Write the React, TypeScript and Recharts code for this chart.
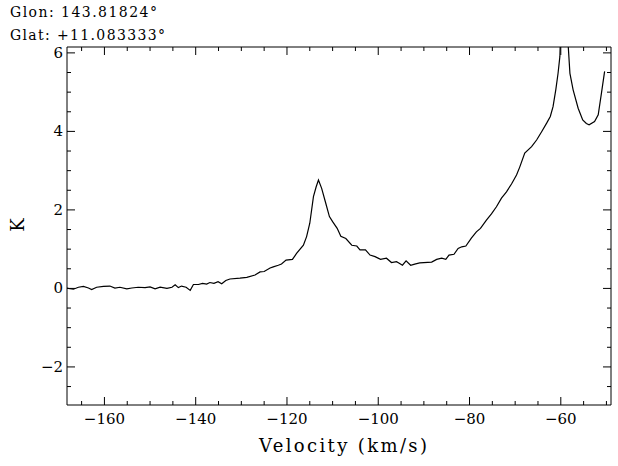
import React from 'react';
import { LineChart, Line, XAxis, YAxis } from 'recharts';

// Velocity (km/s) sample positions
const velocity = [
  -168.2, -167.9, -166.8, -165.7, -164.6, -163.5, -162.8, -161.7, -160.2, -158.8,
  -157.7, -156.6, -155.1, -154.0, -152.6, -151.1, -150.0, -148.9, -147.8, -146.3,
  -145.2, -144.5, -143.8, -143.1, -142.1, -141.2, -140.5, -139.4, -138.5, -137.6,
  -136.9, -136.0, -135.1, -134.3, -133.4, -132.5, -130.3, -128.8, -127.0, -125.9,
  -125.0, -123.7, -123.0, -121.9, -121.2, -120.2, -118.8, -117.9, -116.4, -115.7,
  -115.0, -114.2, -113.6, -113.1, -112.4, -111.5, -110.7, -110.0, -109.0, -108.2,
  -107.1, -105.8, -104.7, -104.0, -102.8, -101.8, -100.7, -99.5, -98.2, -97.1,
  -96.0, -95.4, -94.7, -93.9, -92.9, -92.0, -90.9, -88.3, -87.2, -86.1,
  -85.2, -84.5, -83.4, -82.5, -81.7, -80.8, -79.6, -78.5, -77.6, -76.3,
  -75.2, -74.1, -73.0, -71.9, -70.8, -69.7, -69.0, -67.9, -66.4, -65.3,
  -64.2, -63.1, -62.3, -61.7, -61.1, -60.6, -60.2, -59.4, -58.6, -58.0,
  -57.3, -56.2, -55.2, -54.4, -53.8, -52.6, -51.8, -51.1, -50.4,
];

// Brightness temperature (K)
const kelvin = [
  0.01, 0.0, -0.02, 0.03, 0.05, 0.01, -0.03, 0.03, 0.05, 0.06,
  0.01, 0.03, -0.01, 0.01, 0.03, 0.02, 0.04, -0.01, 0.03, 0.0,
  0.03, 0.09, 0.02, 0.06, 0.03, -0.05, 0.10, 0.10, 0.13, 0.11,
  0.15, 0.13, 0.17, 0.12, 0.20, 0.24, 0.26, 0.28, 0.34, 0.42,
  0.43, 0.52, 0.55, 0.59, 0.62, 0.72, 0.74, 0.89, 1.10, 1.32,
  1.66, 2.34, 2.59, 2.76, 2.55, 2.17, 1.83, 1.70, 1.53, 1.33,
  1.27, 1.10, 1.08, 0.98, 0.98, 0.85, 0.81, 0.74, 0.77, 0.66,
  0.68, 0.64, 0.59, 0.70, 0.59, 0.62, 0.65, 0.67, 0.74, 0.77,
  0.74, 0.85, 0.87, 1.02, 1.06, 1.08, 1.28, 1.44, 1.53, 1.74,
  1.90, 2.08, 2.30, 2.46, 2.66, 2.89, 3.09, 3.45, 3.61, 3.78,
  3.99, 4.21, 4.38, 4.63, 5.06, 5.48, 5.91, 9.0, 6.6, 5.48,
  5.06, 4.59, 4.29, 4.20, 4.17, 4.25, 4.42, 4.97, 5.53,
];

const xDomain = [-168.2, -49.0];
const yDomain = [-2.97, 6.15];

const xTicks = [
  -165, -160, -155, -150, -145, -140, -135, -130, -125, -120, -115, -110,
  -105, -100, -95, -90, -85, -80, -75, -70, -65, -60, -55, -50,
];
const xMajorTicks = [-160, -140, -120, -100, -80, -60];
const yTicks = [-2.5, -2, -1.5, -1, -0.5, 0, 0.5, 1, 1.5, 2, 2.5, 3, 3.5, 4, 4.5, 5, 5.5, 6];
const yMajorTicks = [-2, 0, 2, 4, 6];

const titleLines = ['Glon: 143.81824\u00b0', 'Glat: +11.083333\u00b0'];
const xLabel = 'Velocity (km/s)';
const yLabel = 'K';

const FONT = "'DejaVu Serif', serif";
const MAJOR = 8;
const MINOR = 4;

const data = velocity.map((v, i) => ({ v, k: kelvin[i] }));

const fmt = (n: number) => (n < 0 ? '\u2212' + Math.abs(n) : String(n));

const BottomTick = (props: any) => {
  const { x, y, payload } = props;
  const v = payload.value;
  const major = xMajorTicks.includes(v);
  return (
    <g>
      <line x1={x} y1={y} x2={x} y2={y - (major ? MAJOR : MINOR)} stroke="#000" strokeWidth={1} />
      {major && (
        <text x={x} y={y + 19} textAnchor="middle" fontFamily={FONT} fontSize={15} fill="#000">
          {fmt(v)}
        </text>
      )}
    </g>
  );
};

const TopTick = (props: any) => {
  const { x, y, payload } = props;
  const major = xMajorTicks.includes(payload.value);
  return <line x1={x} y1={y} x2={x} y2={y + (major ? MAJOR : MINOR)} stroke="#000" strokeWidth={1} />;
};

const LeftTick = (props: any) => {
  const { x, y, payload } = props;
  const v = payload.value;
  const major = yMajorTicks.includes(v);
  return (
    <g>
      <line x1={x} y1={y} x2={x + (major ? MAJOR : MINOR)} y2={y} stroke="#000" strokeWidth={1} />
      {major && (
        <text x={x - 4} y={y + 5} textAnchor="end" fontFamily={FONT} fontSize={15} fill="#000">
          {fmt(v)}
        </text>
      )}
    </g>
  );
};

const RightTick = (props: any) => {
  const { x, y, payload } = props;
  const major = yMajorTicks.includes(payload.value);
  return <line x1={x} y1={y} x2={x - (major ? MAJOR : MINOR)} y2={y} stroke="#000" strokeWidth={1} />;
};

export default function App() {
  return (
    <div style={{ position: 'absolute', left: 0, top: 0, width: 618, height: 466, background: '#fff' }}>
      <LineChart width={618} height={466} data={data} margin={{ top: 0, right: 0, bottom: 0, left: 0 }}>
        <XAxis
          xAxisId="b"
          dataKey="v"
          type="number"
          orientation="bottom"
          domain={xDomain}
          allowDataOverflow
          ticks={xTicks}
          interval={0}
          height={61}
          tickSize={0}
          tickMargin={0}
          tickLine={false}
          axisLine={{ stroke: '#000', strokeWidth: 1 }}
          tick={<BottomTick />}
        />
        <XAxis
          xAxisId="t"
          dataKey="v"
          type="number"
          orientation="top"
          domain={xDomain}
          allowDataOverflow
          ticks={xTicks}
          interval={0}
          height={47}
          tickSize={0}
          tickMargin={0}
          tickLine={false}
          axisLine={{ stroke: '#000', strokeWidth: 1 }}
          tick={<TopTick />}
        />
        <YAxis
          yAxisId="l"
          type="number"
          orientation="left"
          domain={yDomain}
          allowDataOverflow
          ticks={yTicks}
          interval={0}
          width={67}
          tickSize={0}
          tickMargin={0}
          tickLine={false}
          axisLine={{ stroke: '#000', strokeWidth: 1 }}
          tick={<LeftTick />}
        />
        <YAxis
          yAxisId="r"
          type="number"
          orientation="right"
          domain={yDomain}
          allowDataOverflow
          ticks={yTicks}
          interval={0}
          width={7}
          tickSize={0}
          tickMargin={0}
          tickLine={false}
          axisLine={{ stroke: '#000', strokeWidth: 1 }}
          tick={<RightTick />}
        />
        <Line
          xAxisId="b"
          yAxisId="l"
          type="linear"
          dataKey="k"
          stroke="#000"
          strokeWidth={1.2}
          dot={false}
          activeDot={false}
          isAnimationActive={false}
        />
      </LineChart>
      <svg
        width={618}
        height={466}
        style={{ position: 'absolute', left: 0, top: 0, pointerEvents: 'none' }}
      >
        <text x={10} y={17} fontFamily={FONT} fontSize={14} fill="#000" textLength={147} lengthAdjust="spacing">
          {titleLines[0]}
        </text>
        <text x={10} y={40} fontFamily={FONT} fontSize={14} fill="#000" textLength={155} lengthAdjust="spacing">
          {titleLines[1]}
        </text>
        <text x={259} y={452} fontFamily={FONT} fontSize={18} fill="#000" textLength={168} lengthAdjust="spacing">
          {xLabel}
        </text>
        <text
          x={17}
          y={225}
          fontFamily={FONT}
          fontSize={18}
          fill="#000"
          textAnchor="middle"
          dominantBaseline="central"
          transform="rotate(-90 17 225)"
        >
          {yLabel}
        </text>
      </svg>
    </div>
  );
}
